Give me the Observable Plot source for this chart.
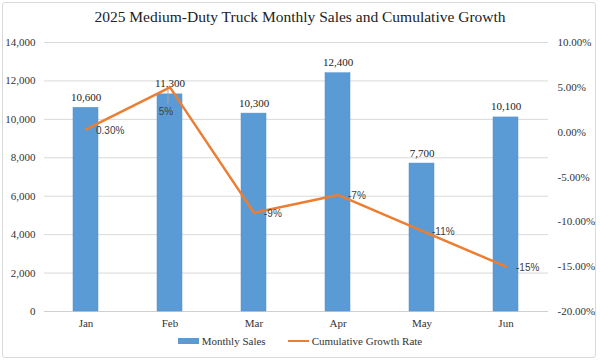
<!DOCTYPE html>
<html>
<head>
<meta charset="utf-8">
<script src="https://cdn.jsdelivr.net/npm/d3@7"></script>
<script src="https://cdn.jsdelivr.net/npm/@observablehq/plot@0.6"></script>
<style>
  html, body { margin: 0; padding: 0; background: #fff; }
  #wrap { position: relative; width: 600px; height: 362px; overflow: hidden; }
  #frame { position: absolute; left: 2px; top: 2px; width: 594px; height: 356px; border: 1px solid #d9d9d9; border-radius: 3px; box-sizing: border-box; pointer-events: none; }
  #title { position: absolute; left: 0; width: 600px; top: 8px; text-align: center; font-family: "Liberation Serif", serif; font-size: 15.5px; color: #222; }
  #legend { position: absolute; top: 335px; left: 0; width: 600px; display: flex; justify-content: center; align-items: center; font-family: "Liberation Serif", serif; font-size: 11px; color: #333; }
  .sw-bar { display: inline-block; width: 21px; height: 6px; background: #5b9bd5; margin-right: 3px; }
  .sw-line { display: inline-block; width: 21px; height: 2.5px; background: #ed7d31; margin-right: 3px; margin-left: 22px; }
</style>
</head>
<body>
<div id="wrap">
  <div id="title">2025 Medium-Duty Truck Monthly Sales and Cumulative Growth</div>
  <div id="chart"></div>
  <div id="legend"><span class="sw-bar"></span><span>Monthly Sales</span><span class="sw-line"></span><span>Cumulative Growth Rate</span></div>
  <div id="frame"></div>
</div>
<script>
const months = ["Jan", "Feb", "Mar", "Apr", "May", "Jun"];
const sales = [10600, 11300, 10300, 12400, 7700, 10100];
const growth = [0.30, 5, -9, -7, -11, -15];
const growthLabels = ["0.30%", "5%", "-9%", "-7%", "-11%", "-15%"];
const leftTicks = [0, 2000, 4000, 6000, 8000, 10000, 12000, 14000];
const rightTicks = [-20, -15, -10, -5, 0, 5, 10];

const sMax = 14000, gMin = -20, gMax = 10;
const g2s = g => (g - gMin) / (gMax - gMin) * sMax;
const s2g = s => s / sMax * (gMax - gMin) + gMin;

const data = months.map((m, i) => ({month: m, sales: sales[i], growth: growth[i], glabel: growthLabels[i], gy: g2s(growth[i])}));
const sideLabels = data.filter(d => d.month !== "Feb");
const belowLabels = data.filter(d => d.month === "Feb");
const serif = "'Liberation Serif', serif";
const sans = "'Liberation Sans', sans-serif";

const chart = Plot.plot({
  width: 600,
  height: 362,
  marginTop: 42,
  marginBottom: 51,
  marginLeft: 44,
  marginRight: 52,
  style: "font-family: 'Liberation Serif', serif; font-size: 11px; color: #333; background: transparent;",
  x: {domain: months, paddingInner: 0.7, paddingOuter: 0.35, label: null},
  y: {domain: [0, sMax], label: null},
  marks: [
    Plot.gridY(leftTicks, {stroke: "#d9d9d9", strokeOpacity: 1}),
    Plot.ruleY([0], {stroke: "#d0d0d0", strokeWidth: 1.2}),
    Plot.axisY({anchor: "left", ticks: leftTicks, tickSize: 0, tickPadding: 9, tickFormat: d3.format(","), label: null, fontFamily: serif, fontSize: 11, fill: "#333"}),
    Plot.axisY({anchor: "right", ticks: rightTicks.map(g2s), tickSize: 0, tickPadding: 9, tickFormat: v => s2g(v).toFixed(2) + "%", label: null, fontFamily: serif, fontSize: 11, fill: "#333"}),
    Plot.axisX({tickSize: 0, tickPadding: 8, label: null, fontFamily: serif, fontSize: 11, fill: "#333"}),
    Plot.barY(data, {x: "month", y: "sales", fill: "#5b9bd5", stroke: "#4f8fcb", strokeWidth: 0.5}),
    Plot.text(data, {x: "month", y: "sales", text: d => d3.format(",")(d.sales), dy: -7, lineAnchor: "bottom", fill: "#222", fontFamily: serif, fontSize: 11}),
    Plot.line(data, {x: "month", y: "gy", stroke: "#ed7d31", strokeWidth: 2.5}),
    Plot.link(belowLabels, {x1: "month", x2: "month", y1: d => d.gy - 120, y2: d => d.gy - 830, dx: -2, stroke: "#a6a6a6", strokeWidth: 1}),
    Plot.text(sideLabels, {x: "month", y: "gy", text: "glabel", textAnchor: "start", dx: 10, dy: 1, fill: "#404040", fontFamily: sans, fontSize: 10}),
    Plot.text(belowLabels, {x: "month", y: "gy", text: "glabel", textAnchor: "middle", dx: -4, dy: 24, fill: "#404040", fontFamily: sans, fontSize: 10})
  ]
});
document.getElementById("chart").appendChild(chart);
</script>
</body>
</html>
